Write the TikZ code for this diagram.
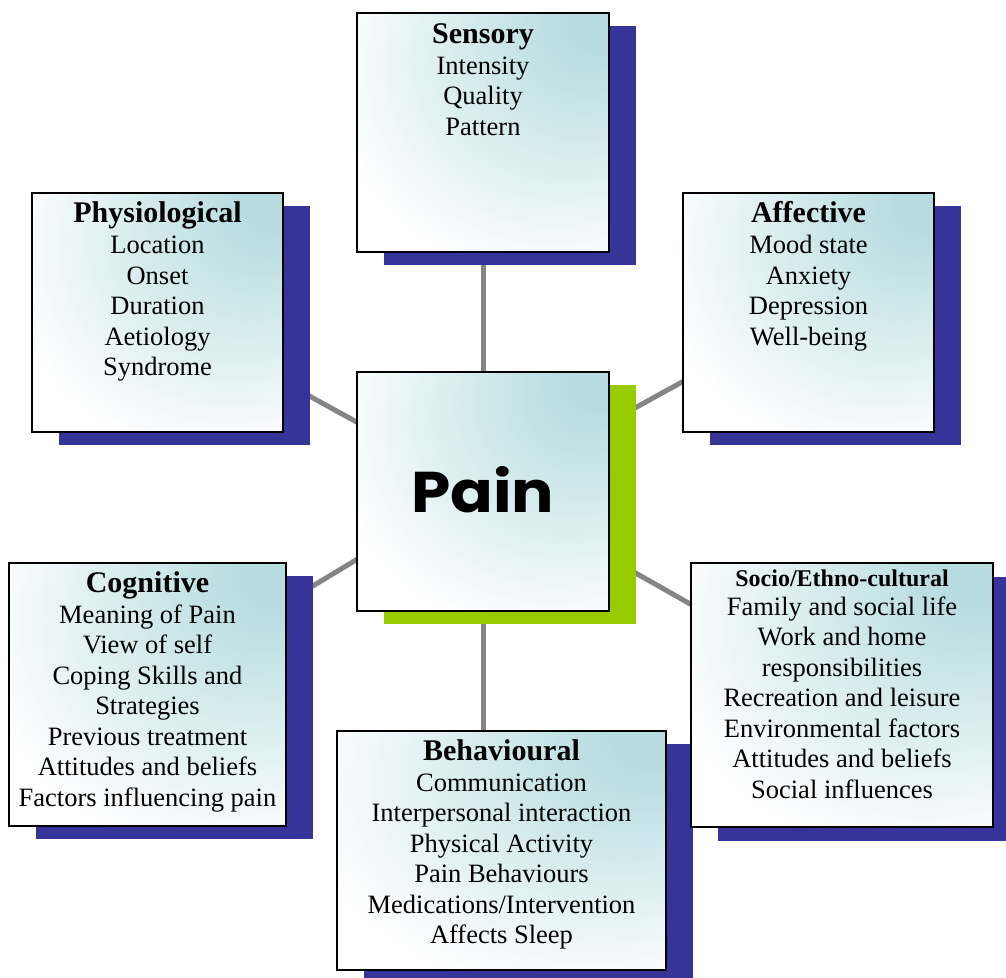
\documentclass[tikz,border=0pt]{standalone}
\usepackage{fontspec}
\setmainfont{Liberation Serif}
\newfontfamily\painfont{Poppins}
\usepackage{graphicx}
\usetikzlibrary{calc}
\definecolor{shadowblue}{HTML}{363399}
\definecolor{shadowgreen}{HTML}{99CC00}
\definecolor{boxteal}{HTML}{B7DCE0}
\definecolor{linkgray}{HTML}{858585}
\pgfdeclareradialshading{cardshade}{\pgfpoint{25bp}{25bp}}{%
  color(0bp)=(boxteal); color(6bp)=(boxteal); color(26bp)=(boxteal!45!white);
  color(42bp)=(white); color(80bp)=(white)}
\pgfdeclarelayer{links}
\pgfdeclarelayer{shadows}
\pgfsetlayers{links,shadows,main}
\newcommand{\bstrut}{\rule{0pt}{20pt}}
\begin{document}
\begin{tikzpicture}[x=1pt,y=-1pt,
  card/.style={draw=black, line width=1.5pt, rectangle, inner sep=0pt, shading=cardshade},
  shadowbox/.style={fill=#1, draw=none, rectangle, inner sep=0pt},
  head/.style={anchor=base, inner sep=0pt, font=\fontsize{30}{36}\selectfont\bfseries},
  smallhead/.style={anchor=base, inner sep=0pt, font=\fontsize{24}{29}\selectfont\bfseries},
  body/.style={anchor=north, inner sep=0pt, align=center, font=\fontsize{26.5}{30.5}\selectfont},
  link/.style={draw=linkgray, line width=5pt}
]
\useasboundingbox (0,0) rectangle (1006,977);

% boxes
\node[card, minimum width=252pt, minimum height=239pt] (sens) at (483,132.5) {};
\node[card, minimum width=252pt, minimum height=239pt] (pain) at (483,491.5) {};
\node[card, minimum width=251pt, minimum height=239pt] (phys) at (157.5,312.5) {};
\node[card, minimum width=251pt, minimum height=239pt] (aff) at (808.5,312.5) {};
\node[card, minimum width=277pt, minimum height=263pt] (cog) at (147.5,694.5) {};
\node[card, minimum width=302pt, minimum height=264pt] (soc) at (842,695) {};
\node[card, minimum width=329pt, minimum height=239pt] (beh) at (501.5,850.5) {};

% shadows
\begin{pgfonlayer}{shadows}
\node[shadowbox=shadowblue, minimum width=252pt, minimum height=239pt] (sensS) at ([shift={(27,13)}]sens.center) {};
\node[shadowbox=shadowgreen, minimum width=252pt, minimum height=239pt] (painS) at ([shift={(27,13)}]pain.center) {};
\node[shadowbox=shadowblue, minimum width=251pt, minimum height=239pt] (physS) at ([shift={(27,13)}]phys.center) {};
\node[shadowbox=shadowblue, minimum width=251pt, minimum height=239pt] (affS) at ([shift={(27,13)}]aff.center) {};
\node[shadowbox=shadowblue, minimum width=277pt, minimum height=263pt] (cogS) at ([shift={(27,13)}]cog.center) {};
\node[shadowbox=shadowblue, minimum width=302pt, minimum height=264pt] (socS) at ([shift={(27,14)}]soc.center) {};
\node[shadowbox=shadowblue, minimum width=329pt, minimum height=239pt] (behS) at ([shift={(27,13)}]beh.center) {};
\end{pgfonlayer}

% connectors
\begin{pgfonlayer}{links}
\draw[link] (sens.center) -- (pain.center);
\draw[link] (pain.center) -- (phys.center);
\draw[link] (pain.center) -- (aff.center);
\draw[link] ([yshift=8pt]pain.center) -- ([yshift=9pt]cog.center);
\draw[link] ([yshift=5pt]pain.center) -- ([yshift=5pt]soc.center);
\draw[link] (pain.center) -- (pain.center |- beh.center);
\end{pgfonlayer}

% texts
\node[head] (sensH) at ([yshift=-31pt]sens.north) {Sensory};
\node[body] (sensB) at ([yshift=-42pt]sens.north) {\bstrut Intensity\\Quality\\Pattern};

\node[head] (physH) at ([yshift=-30pt]phys.north) {Physiological};
\node[body] (physB) at ([yshift=-41.5pt]phys.north) {\bstrut Location\\Onset\\Duration\\Aetiology\\Syndrome};

\node[head] (affH) at ([yshift=-30pt]aff.north) {Affective};
\node[body] (affB) at ([yshift=-41.5pt]aff.north) {\bstrut Mood state\\Anxiety\\Depression\\Well-being};

\node[head] (cogH) at ([yshift=-30pt]cog.north) {Cognitive};
\node[body] (cogB) at ([yshift=-41pt]cog.north) {\bstrut Meaning of Pain\\View of self\\Coping Skills and\\Strategies\\Previous treatment\\Attitudes and beliefs\\Factors influencing pain};

\node[smallhead] (socH) at ([yshift=-24pt]soc.north) {Socio/Ethno-cultural};
\node[body] (socB) at ([yshift=-33pt]soc.north) {\bstrut Family and social life\\Work and home\\responsibilities\\Recreation and leisure\\Environmental factors\\Attitudes and beliefs\\Social influences};

\node[head] (behH) at ([yshift=-30pt]beh.north) {Behavioural};
\node[body] (behB) at ([yshift=-41pt]beh.north) {\bstrut Communication\\Interpersonal interaction\\Physical Activity\\Pain Behaviours\\Medications/Intervention\\Affects Sleep};

\node[inner sep=0pt] (painT) at ([shift={(-0.5,-1.5)}]pain.center) {\resizebox{143pt}{46pt}{\painfont\bfseries Pain}};
\end{tikzpicture}
\end{document}
